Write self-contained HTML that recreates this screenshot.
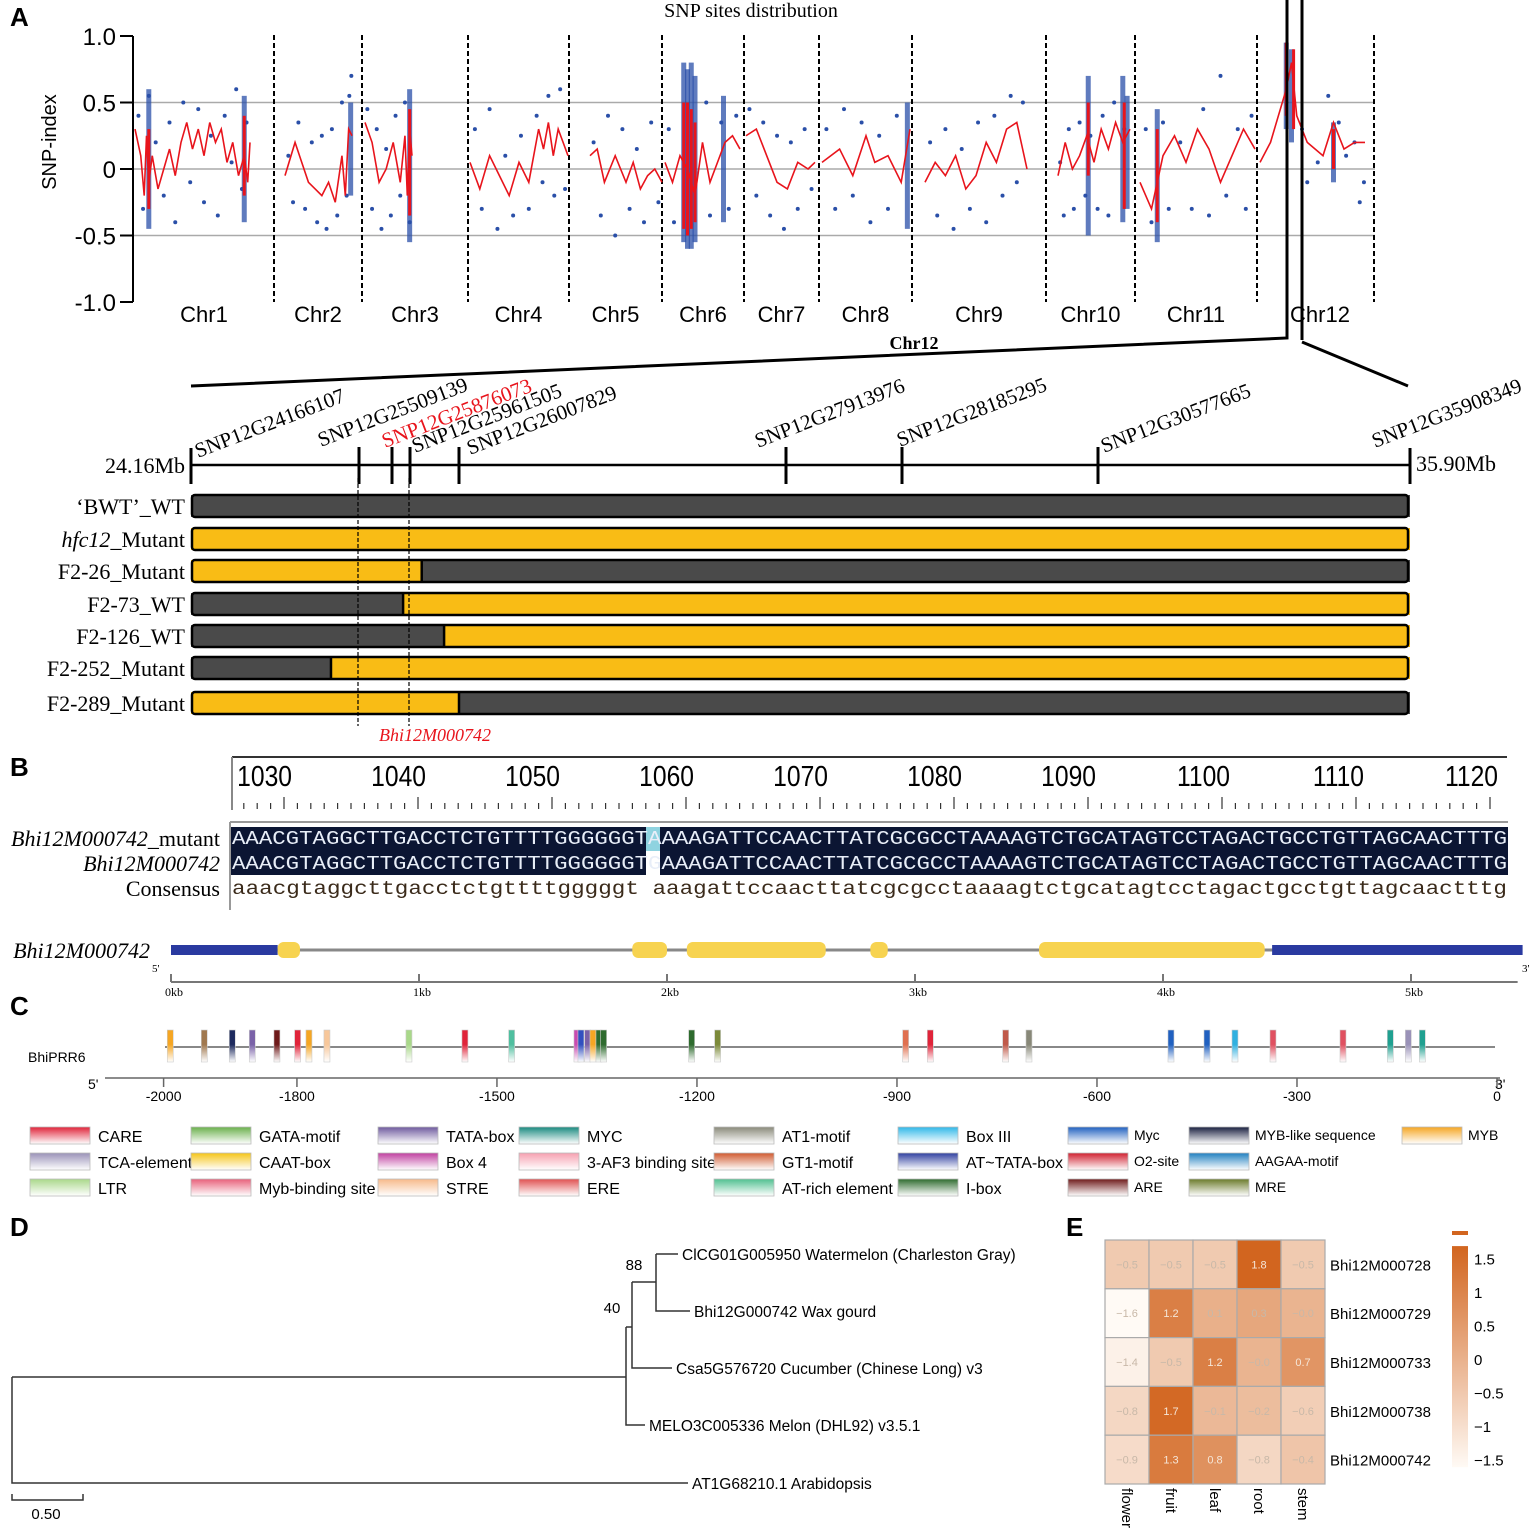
<!DOCTYPE html>
<html><head><meta charset="utf-8"><style>
html,body{margin:0;padding:0;background:#fff;}
svg{display:block;}
.sans{font-family:"Liberation Sans",Arial,sans-serif;}
.serif{font-family:"Liberation Serif","Times New Roman",serif;}
.mono{font-family:"Liberation Mono",monospace;}
</style></head><body>
<svg id="fig" width="1535" height="1531" viewBox="0 0 1535 1531" xmlns="http://www.w3.org/2000/svg">
<defs>
<linearGradient id="hmGrad" x1="0" y1="1" x2="0" y2="0"><stop offset="0" stop-color="#fffaf5"/><stop offset="1" stop-color="#d2651f"/></linearGradient>
</defs>
<g id="panelA"></g>
<g id="panelA2"></g>
<g id="panelB"></g>
<g id="panelC"></g>
<g id="panelD"></g>
<g id="panelE"></g>
</svg>
<script>
// ---------- Panel A data ----------
const chrNames = ["Chr1","Chr2","Chr3","Chr4","Chr5","Chr6","Chr7","Chr8","Chr9","Chr10","Chr11","Chr12"];
const yTicksA = [1.0,0.5,0,-0.5,-1.0];
const yTickLabelsA = ["1.0","0.5","0","-0.5","-1.0"];
const redLines = [
 [[0,0.3],[5,0.1],[8,-0.2],[10,0.25],[12,-0.1],[15,0.1],[20,-0.15],[25,0],[30,0.15],[35,-0.05],[40,0.2],[45,0.35],[50,0.15],[55,0.3],[60,0.1],[65,0.35],[70,0.2],[75,0.3],[80,0.05],[85,0.2],[90,-0.05],[95,0.1],[98,-0.1],[100,0.2]],
 [[0,-0.05],[15,0.2],[25,0.05],[35,-0.1],[45,-0.15],[55,-0.2],[65,-0.1],[75,-0.25],[85,0.1],[90,-0.2],[95,0.3],[100,0.25]],
 [[0,0.35],[15,0.2],[30,-0.1],[45,0],[60,0.2],[75,-0.1],[85,0.25],[90,-0.2],[95,0.3],[100,0.1]],
 [[0,0.05],[10,-0.15],[20,0.1],[30,-0.05],[40,-0.2],[50,0.05],[60,-0.1],[70,0.3],[75,0.15],[80,0.35],[85,0.1],[90,0.3],[95,0.2],[100,0.1]],
 [[0,0.1],[10,0.15],[20,-0.1],[35,0.1],[50,-0.1],[60,0.05],[70,-0.15],[80,-0.05],[90,0.0],[100,-0.1]],
 [[0,0.05],[10,-0.1],[20,0.1],[30,0],[40,-0.2],[50,0.2],[60,-0.1],[70,0.05],[80,0.2],[90,0.25],[100,0.15]],
 [[0,0.25],[15,0.3],[30,0.1],[45,-0.1],[60,-0.15],[75,0.05],[90,0],[100,0.05]],
 [[0,0.05],[20,0.15],[35,-0.05],[50,0.25],[60,0.05],[75,0.1],[90,-0.1],[100,0.3]],
 [[0,-0.1],[10,0.05],[20,-0.05],[30,0.1],[40,-0.15],[50,-0.05],[60,0.2],[70,0.05],[80,0.3],[90,0.35],[100,0]],
 [[0,-0.05],[10,0.2],[20,0],[30,0.1],[40,0.25],[50,0.05],[60,0.3],[70,0.15],[80,0.35],[90,0.2],[100,0.3]],
 [[0,-0.1],[10,-0.3],[20,0.1],[30,0.25],[40,0.05],[50,0.3],[60,0.15],[70,-0.1],[80,0.1],[90,0.3],[100,0.15]],
 [[0,0.05],[10,0.2],[25,0.6],[30,0.8],[35,0.4],[45,0.2],[60,0.1],[70,0.35],[80,0.15],[90,0.2],[100,0.2]]
];
const blueDots = [
 [[3,0.4],[7,-0.3],[12,0.55],[18,0.2],[25,-0.2],[30,0.35],[35,-0.4],[42,0.5],[48,-0.1],[55,0.45],[60,-0.25],[66,0.25],[72,-0.35],[78,0.4],[84,0.05],[88,0.6],[93,-0.15],[97,0.35]],
 [[5,0.1],[12,-0.25],[20,0.35],[30,-0.3],[40,0.2],[48,-0.4],[55,0.25],[62,-0.45],[70,0.3],[78,-0.35],[85,0.5],[92,-0.2],[96,0.55],[99,0.7]],
 [[5,0.45],[15,-0.3],[25,0.3],[35,-0.45],[45,0.15],[55,-0.35],[65,0.4],[75,-0.2],[85,0.5],[95,-0.4]],
 [[5,0.3],[12,-0.3],[20,0.45],[28,-0.45],[36,0.1],[44,-0.35],[52,0.25],[60,-0.3],[68,0.4],[74,-0.1],[80,0.55],[86,-0.2],[92,0.6],[97,-0.15]],
 [[5,0.2],[15,-0.35],[25,0.4],[35,-0.5],[45,0.3],[55,-0.3],[65,0.15],[75,-0.4],[85,0.35],[95,-0.25]],
 [[5,0.3],[12,-0.4],[55,0.5],[60,-0.35],[75,0.35],[85,-0.3],[95,0.4]],
 [[5,0.45],[15,-0.2],[25,0.35],[35,-0.35],[45,0.25],[55,-0.45],[65,0.2],[75,-0.3],[85,0.3],[95,-0.15]],
 [[5,0.3],[15,-0.3],[25,0.45],[35,-0.2],[45,0.35],[55,-0.4],[65,0.25],[75,-0.3],[85,0.4]],
 [[5,0.2],[12,-0.35],[20,0.3],[28,-0.45],[36,0.15],[44,-0.3],[52,0.35],[60,-0.4],[68,0.4],[76,-0.2],[84,0.55],[90,-0.1],[96,0.5]],
 [[3,0.05],[8,-0.35],[15,0.3],[22,-0.3],[30,0.35],[38,-0.2],[45,0.25],[55,-0.3],[62,0.4],[70,-0.35],[78,0.5],[92,0.3]],
 [[5,0.3],[10,-0.4],[20,0.35],[25,-0.3],[35,0.2],[45,-0.3],[55,0.45],[60,-0.35],[70,0.7],[75,-0.2],[85,0.3],[92,-0.3],[97,0.4]],
 [[40,0.3],[45,-0.1],[55,0.05],[65,0.55],[75,0.35],[82,0.1],[90,0.2],[95,-0.25],[99,-0.1]]
];
// spikes: [chrIndex, pos, lo, hi] blue dense columns
const blueSpikes = [[0,12,-0.45,0.6],[0,95,-0.4,0.55],[1,98,-0.2,0.5],[2,95,-0.55,0.6],[5,25,-0.55,0.8],[5,30,-0.6,0.75],[5,35,-0.6,0.8],[5,40,-0.55,0.7],[5,78,-0.4,0.55],[7,97,-0.45,0.5],[9,42,-0.5,0.7],[9,90,-0.4,0.7],[9,96,-0.3,0.55],[10,15,-0.55,0.45],[11,25,0.3,0.95],[11,30,0.2,0.9],[11,70,-0.1,0.35]];
const redSpikes = [[0,12,-0.3,0.3],[0,95,-0.2,0.4],[2,95,-0.35,0.45],[5,25,-0.45,0.5],[5,30,-0.5,0.5],[5,35,-0.45,0.45],[5,40,-0.4,0.35],[9,42,-0.05,0.5],[9,92,-0.3,0.5],[10,15,-0.4,0.3],[11,25,0.4,0.95],[11,32,0.3,0.9],[11,70,0,0.3]];

// ---------- Panel A2 data ----------
const snpMarkers = ["SNP12G24166107","SNP12G25509139","SNP12G25876073","SNP12G25961505","SNP12G26007829","SNP12G27913976","SNP12G28185295","SNP12G30577665","SNP12G35908349"];
const snpPosMb = [24.166,25.509,25.876,25.962,26.008,27.914,28.185,30.578,35.908];
const lineNames = ["‘BWT’_WT","hfc12_Mutant","F2-26_Mutant","F2-73_WT","F2-126_WT","F2-252_Mutant","F2-289_Mutant"];
// genotype segments: [startMb, endMb, genotype] ; G = gray (WT), Y = yellow (mutant)
const genoSegs = [
 [[24.166,35.908,"G"]],
 [[24.166,35.908,"Y"]],
 [[24.166,25.973,"Y"],[25.973,35.908,"G"]],
 [[24.166,25.929,"G"],[25.929,35.908,"Y"]],
 [[24.166,25.994,"G"],[25.994,35.908,"Y"]],
 [[24.166,25.285,"G"],[25.285,35.908,"Y"]],
 [[24.166,26.008,"Y"],[26.008,35.908,"G"]]
];
const intervalMb = [25.509,25.962];

// ---------- Panel B data ----------
const rulerLabels = [1030,1040,1050,1060,1070,1080,1090,1100,1110,1120];
const seqMutant = "AAACGTAGGCTTGACCTCTGTTTTGGGGGGTAAAAGATTCCAACTTATCGCGCCTAAAAGTCTGCATAGTCCTAGACTGCCTGTTAGCAACTTTG";
const seqWT     = "AAACGTAGGCTTGACCTCTGTTTTGGGGGGTGAAAGATTCCAACTTATCGCGCCTAAAAGTCTGCATAGTCCTAGACTGCCTGTTAGCAACTTTG";
const seqCons   = "aaacgtaggcttgacctctgttttgggggt aaagattccaacttatcgcgcctaaaagtctgcatagtcctagactgcctgttagcaactttg";
const geneUTR = [[0,0.43],[4.44,5.45]];
const geneExons = [[0.43,0.52],[1.86,2.0],[2.08,2.64],[2.82,2.89],[3.5,4.41]];
const kbTicks = [0,1,2,3,4,5];

// ---------- Panel C data ----------
const promTicks = [-2000,-1800,-1500,-1200,-900,-600,-300,0];
const elemPos = [-1990,-1939,-1897,-1867,-1830,-1799,-1782,-1755,-1632,-1548,-1478,-1380,-1374,-1364,-1356,-1347,-1340,-1208,-1169,-887,-850,-737,-702,-489,-435,-393,-336,-231,-160,-133,-112];
const elemColor = ["#f5a623","#a0784e","#1d2a5e","#7a62a8","#6e1a1a","#e0243a","#f5a623","#f7c79a","#a9d88a","#e0243a","#4fbf9f","#c94ab0","#3050c0","#7a62a8","#f5a623","#2e6b2e","#2e6b2e","#2e6b2e","#7c8a3a","#e07050","#e0243a","#c05a4a","#888878","#2060c0","#2060c0","#30b0e0","#e05060","#e05060","#20a090","#9a92b8","#20a090"];
const legendNames = ["CARE","TCA-element","LTR","GATA-motif","CAAT-box","Myb-binding site","TATA-box","Box 4","STRE","MYC","3-AF3 binding site","ERE","AT1-motif","GT1-motif","AT-rich element","Box III","AT~TATA-box","I-box","Myc","O2-site","ARE","MYB-like sequence","AAGAA-motif","MRE","MYB"];
const legendColors = ["#e0243a","#9a92b8","#a9d88a","#6ab04c","#f5c518","#e8607a","#6e5a9e","#c040a0","#f7b98a","#1a8a80","#f6a0b0","#e05050","#8a8a7a","#d05a30","#50c090","#30b8e8","#3040a0","#2e6b2e","#2060c0","#d02030","#6e1a1a","#1a2040","#2080c0","#6a7a2a","#f5a623"];

// ---------- Panel D data ----------
const treeLeaves = ["ClCG01G005950 Watermelon (Charleston Gray)","Bhi12G000742 Wax gourd","Csa5G576720 Cucumber (Chinese Long) v3","MELO3C005336 Melon (DHL92) v3.5.1","AT1G68210.1 Arabidopsis"];
const bootstrap = ["88","40"];

// ---------- Panel E data ----------
const hmGenes = ["Bhi12M000728","Bhi12M000729","Bhi12M000733","Bhi12M000738","Bhi12M000742"];
const hmTissues = ["flower","fruit","leaf","root","stem"];
const hmValues = [
 [-0.5,-0.5,-0.5,1.8,-0.5],
 [-1.6,1.2,0.1,0.3,-0.0],
 [-1.4,-0.5,1.2,-0.0,0.7],
 [-0.8,1.7,-0.1,-0.2,-0.6],
 [-0.9,1.3,0.8,-0.8,-0.4]
];
const hmLabels = [
 ["−0.5","−0.5","−0.5","1.8","−0.5"],
 ["−1.6","1.2","0.1","0.3","−0.0"],
 ["−1.4","−0.5","1.2","−0.0","0.7"],
 ["−0.8","1.7","−0.1","−0.2","−0.6"],
 ["−0.9","1.3","0.8","−0.8","−0.4"]
];
const cbTicks = [1.5,1,0.5,0,-0.5,-1,-1.5];
const cbTickLabels = ["1.5","1","0.5","0","−0.5","−1","−1.5"];

// ---------- helpers ----------
const NS = "http://www.w3.org/2000/svg";
function mk(parent, tag, attrs, text){
  const e = document.createElementNS(NS, tag);
  for (const k in attrs) e.setAttribute(k, attrs[k]);
  if (text !== undefined) e.textContent = text;
  parent.appendChild(e);
  return e;
}
function panelLabel(g, x, y, t){
  const e = mk(g,"text",{x:x,y:y,"font-size":26,"font-weight":"bold",class:"sans"},t);
  
  
}

// ---------- Panel A ----------
(function(){
  const g = document.getElementById("panelA");
  panelLabel(g, 10, 26, "A");
  const yA = v => 169 - v*133;
  const chrX = [[135,250],[285,352],[365,412],[470,568],[590,662],[665,740],[746,815],[822,910],[925,1027],[1058,1130],[1140,1255],[1260,1365]];
  const seps = [274,362,468,569,662,744,819,912,1046,1135,1257,1374];
  const xA = (c,p) => chrX[c][0] + (chrX[c][1]-chrX[c][0])*p/100;
  let t = mk(g,"text",{x:751,y:17,"text-anchor":"middle","font-size":20,class:"serif"},"SNP sites distribution");
  
  
  [0.5,0,-0.5].forEach(v=>{
    const l = mk(g,"line",{x1:133,x2:1375,y1:yA(v),y2:yA(v),stroke:"#aaa","stroke-width":1.5});
    
    
  });
  const ax = mk(g,"line",{x1:133,x2:133,y1:yA(1),y2:yA(-1),stroke:"#000","stroke-width":2});
  
  
  yTicksA.forEach((v,i)=>{
    mk(g,"line",{x1:120,x2:133,y1:yA(v),y2:yA(v),stroke:"#000","stroke-width":2});
    const tl = mk(g,"text",{x:116,y:yA(v)+9,"text-anchor":"end","font-size":24,class:"sans"},yTickLabelsA[i]);
    
    
  });
  const yt = mk(g,"text",{x:0,y:0,"font-size":20,class:"sans",transform:"translate(56,142) rotate(-90)","text-anchor":"middle"},"SNP-index");
  
  
  seps.forEach(x=>{
    const l = mk(g,"line",{x1:x,x2:x,y1:35,y2:302,stroke:"#000","stroke-width":2,"stroke-dasharray":"5,3"});
    
    
  });
  chrNames.forEach((n,i)=>{
    const cx = i===0?204:(i===11?1320:(seps[i-1]+seps[i])/2);
    const tl = mk(g,"text",{x:cx,y:322,"text-anchor":"middle","font-size":22,class:"sans"},n);
    
    
  });
  blueSpikes.forEach(s=>{
    const r = mk(g,"rect",{x:xA(s[0],s[1])-2.5,y:yA(s[3]),width:5,height:yA(s[2])-yA(s[3]),fill:"#2a4fa8",opacity:0.75});
    
    
  });
  blueDots.forEach((arr,c)=>arr.forEach(d=>{
    const p = mk(g,"circle",{cx:xA(c,d[0]),cy:yA(d[1]),r:2,fill:"#2a4fa8"});
    
    
  }));
  redLines.forEach((arr,c)=>{
    const pl = mk(g,"polyline",{points:arr.map(d=>xA(c,d[0])+","+yA(d[1])).join(" "),fill:"none",stroke:"#e8141c","stroke-width":1.6});
    
    
  });
  redSpikes.forEach(s=>{
    const r = mk(g,"rect",{x:xA(s[0],s[1])-1.5,y:yA(s[3]),width:3,height:yA(s[2])-yA(s[3]),fill:"#e8141c"});
    
    
  });
  const zb = mk(g,"path",{d:"M1287,0 L1287,338 L191,386 M1302,0 L1302,340 M1302,342 L1408,386",fill:"none",stroke:"#000","stroke-width":3});
  
  
  const ct = mk(g,"text",{x:914,y:349,"text-anchor":"middle","font-size":18,"font-weight":"bold",class:"serif"},"Chr12");
  
  
})();

// ---------- Panel A2 ----------
(function(){
  const g = document.getElementById("panelA2");
  // piecewise axis: marker Mb positions anchored to drawn (non-proportional) tick layout
  const anchorPx = [191,359,392,410,459,786,902,1098,1410];
  const xm = m => {
    for(let i=0;i<snpPosMb.length-1;i++){
      if(m<=snpPosMb[i+1]){ const f=(m-snpPosMb[i])/(snpPosMb[i+1]-snpPosMb[i]); return anchorPx[i]+f*(anchorPx[i+1]-anchorPx[i]); }
    }
    return anchorPx[anchorPx.length-1];
  };
  const ax = mk(g,"line",{x1:191,x2:1410,y1:465,y2:465,stroke:"#000","stroke-width":2.5});
  
  
  let t = mk(g,"text",{x:185,y:473,"text-anchor":"end","font-size":22,class:"serif"},"24.16Mb");
  
  
  t = mk(g,"text",{x:1416,y:471,"font-size":22,class:"serif"},"35.90Mb");
  
  
  const labPos = [[198,458],[321,447],[385,448],[415,453],[470,455],[758,448],[900,447],[1104,453],[1375,448]];
  snpMarkers.forEach((n,i)=>{
    const x = xm(snpPosMb[i]);
    const l = mk(g,"line",{x1:x,x2:x,y1:i===0||i===8?448:447,y2:484,stroke:"#000","stroke-width":3});
    
    
    const tx = labPos[i][0], ty = labPos[i][1];
    const tl = mk(g,"text",{x:tx,y:ty,"font-size":21,class:"serif",fill:i===2?"#e8141c":"#000",transform:`rotate(-21 ${tx} ${ty})`},n);
    
    
  });
  const rowY = [506,539,571,604,636,668,703];
  lineNames.forEach((n,i)=>{
    const y = rowY[i];
    const lab = mk(g,"text",{x:185,y:y+8,"text-anchor":"end","font-size":22,class:"serif"});
    
    
    if(i===1){ mk(lab,"tspan",{"font-style":"italic"},"hfc12"); mk(lab,"tspan",{},"_Mutant"); }
    else lab.textContent = n;
    genoSegs[i].forEach(s=>{
      const r = mk(g,"rect",{x:xm(s[0]),y:y-11,width:xm(s[1])-xm(s[0]),height:22,fill:s[2]==="G"?"#4a4a4a":"#f9bc15"});
      
      
    });
    const b = mk(g,"rect",{x:192,y:y-11,width:1216,height:22,rx:3,fill:"none",stroke:"#000","stroke-width":2.5});
    
    
    genoSegs[i].slice(1).forEach(s=>{
      mk(g,"line",{x1:xm(s[0]),x2:xm(s[0]),y1:y-11,y2:y+11,stroke:"#000","stroke-width":2.5});
    });
  });
  intervalMb.forEach(m=>{
    const l = mk(g,"line",{x1:xm(m)-1,x2:xm(m)-1,y1:478,y2:726,stroke:"#000","stroke-width":1.2,"stroke-dasharray":"4,2"});
    
    
  });
  t = mk(g,"text",{x:435,y:741,"text-anchor":"middle","font-size":18,"font-style":"italic",fill:"#e8141c",class:"serif"},"Bhi12M000742");
  
  
})();

// ---------- Panel B ----------
(function(){
  const g = document.getElementById("panelB");
  panelLabel(g, 10, 776, "B");
  const bx = b => 284 + (b-1030)*13.4;
  mk(g,"line",{x1:232,x2:1507,y1:757,y2:757,stroke:"#333","stroke-width":2});
  mk(g,"line",{x1:232,x2:232,y1:757,y2:810,stroke:"#888","stroke-width":2});
  rulerLabels.forEach(b=>{
    const t = mk(g,"text",{x:(bx(b)+8)/0.85,y:786,"text-anchor":"end","font-size":29,class:"sans",transform:`scale(0.85,1)`},b);
    
    
  });
  for(let b=1027;b<=1120;b++){
    const major = b%10===0;
    mk(g,"line",{x1:bx(b),x2:bx(b),y1:major?797:803,y2:809,stroke:"#333","stroke-width":1.2});
  }
  mk(g,"line",{x1:230,x2:1508,y1:822,y2:822,stroke:"#999","stroke-width":2});
  mk(g,"line",{x1:230,x2:230,y1:822,y2:910,stroke:"#999","stroke-width":2});
  const box = mk(g,"rect",{x:231,y:827,width:1277,height:48,fill:"#0b1533"});
  
  
  const hi = mk(g,"rect",{x:646,y:827,width:14,height:24,fill:"#8fd3e0"});
  
  
  mk(g,"rect",{x:646,y:851,width:14,height:24,fill:"#fff"});
  const rows = [["Bhi12M000742","_mutant",seqMutant,848,"#e8eef8"],["Bhi12M000742","",seqWT,873,"#e8eef8"],["","Consensus",seqCons,898,"#3a2a1a"]];
  rows.forEach((r,i)=>{
    const lab = mk(g,"text",{x:220,y:r[3]-2,"text-anchor":"end","font-size":22,class:"serif"});
    
    
    if(r[0]) mk(lab,"tspan",{"font-style":"italic"},r[0]);
    if(r[1]) mk(lab,"tspan",{},r[1]);
    const s = mk(g,"text",{x:232,y:r[3]-4,"font-size":19,class:"mono",fill:r[4],textLength:1275,lengthAdjust:"spacingAndGlyphs"},r[2]);
    
    
  });
  const kx = k => 171 + k*248;
  let t = mk(g,"text",{x:150,y:958,"text-anchor":"end","font-size":22,"font-style":"italic",class:"serif"},"Bhi12M000742");
  
  
  mk(g,"line",{x1:kx(0),x2:kx(5.43),y1:950,y2:950,stroke:"#888","stroke-width":3});
  geneUTR.forEach(u=>{
    const r = mk(g,"rect",{x:kx(u[0]),y:945,width:kx(u[1])-kx(u[0]),height:10,fill:"#2a3aa0"});
    
    
  });
  geneExons.forEach(u=>{
    const r = mk(g,"rect",{x:kx(u[0]),y:942,width:kx(u[1])-kx(u[0]),height:16,rx:6,fill:"#f7d350"});
    
    
  });
  mk(g,"text",{x:152,y:972,"font-size":11,class:"serif"},"5'");
  mk(g,"text",{x:1522,y:972,"font-size":11,class:"serif"},"3'");
  mk(g,"line",{x1:kx(0),x2:kx(5.43),y1:982,y2:982,stroke:"#777","stroke-width":2});
  kbTicks.forEach(k=>{
    mk(g,"line",{x1:kx(k),x2:kx(k),y1:974,y2:982,stroke:"#777","stroke-width":2});
    const tl = mk(g,"text",{x:kx(k)+3,y:996,"text-anchor":"middle","font-size":12,class:"serif"},k+"kb");
    
    
  });
})();

// ---------- Panel C ----------
(function(){
  const g = document.getElementById("panelC");
  panelLabel(g, 10, 1015, "C");
  const px = b => 1497 + b*0.6667;
  let t = mk(g,"text",{x:28,y:1062,"font-size":14,class:"sans"},"BhiPRR6");
  
  
  mk(g,"line",{x1:165,x2:1495,y1:1047,y2:1047,stroke:"#888","stroke-width":2});
  elemPos.forEach((b,i)=>{
    const id = "eg"+i;
    const gr = mk(g.ownerSVGElement.querySelector("defs"),"linearGradient",{id:id,x1:0,y1:0,x2:0,y2:1});
    mk(gr,"stop",{offset:0,"stop-color":elemColor[i]});
    mk(gr,"stop",{offset:0.45,"stop-color":elemColor[i]});
    mk(gr,"stop",{offset:1,"stop-color":"#fff"});
    const r = mk(g,"rect",{x:px(b)-3,y:1030,width:6,height:32,fill:`url(#${id})`,stroke:"#ccc","stroke-width":0.6});
    
    
  });
  mk(g,"line",{x1:105,x2:1500,y1:1078,y2:1078,stroke:"#666","stroke-width":1.5});
  mk(g,"text",{x:88,y:1089,"font-size":14,class:"sans"},"5'");
  mk(g,"text",{x:1495,y:1089,"font-size":14,class:"sans"},"3'");
  promTicks.forEach(b=>{
    mk(g,"line",{x1:px(b),x2:px(b),y1:1078,y2:1087,stroke:"#666","stroke-width":1.5});
    const tl = mk(g,"text",{x:px(b),y:1101,"text-anchor":"middle","font-size":14,class:"sans"},b===0?"0":b);
    
    
  });
  const colX = [30,191,378,519,714,898,1068,1189,1402];
  const rowY = [1127,1153,1179];
  legendNames.forEach((n,i)=>{
    const c = Math.floor(i/3), r = i%3;
    const x = colX[c], y = rowY[r];
    const id = "lg"+i;
    const gr = mk(g.ownerSVGElement.querySelector("defs"),"linearGradient",{id:id,x1:0,y1:0,x2:0,y2:1});
    mk(gr,"stop",{offset:0,"stop-color":legendColors[i]});
    mk(gr,"stop",{offset:1,"stop-color":"#fff"});
    const sw = mk(g,"rect",{x:x,y:y,width:60,height:17,fill:`url(#${id})`,stroke:"#bbb","stroke-width":0.8});
    
    
    const small = c>=6;
    const tl = mk(g,"text",{x:x+(small?66:68),y:y+(small?13:15),"font-size":small?14:16,class:"sans"},n);
    
    
  });
})();

// ---------- Panel D ----------
(function(){
  const g = document.getElementById("panelD");
  panelLabel(g, 10, 1236, "D");
  const leafY = [1254,1311,1368,1425,1483];
  const leafX = [678,690,672,645,688];
  const path = "M12,1377 L12,1483 L688,1483 M12,1377 L626,1377 M626,1327 L626,1425 L645,1425 M626,1327 L632,1327 M632,1282 L632,1368 L672,1368 M632,1282 L656,1282 M656,1254 L656,1311 L690,1311 M656,1254 L678,1254";
  const p = mk(g,"path",{d:path,stroke:"#333","stroke-width":1.5,fill:"none"});
  
  
  treeLeaves.forEach((n,i)=>{
    const t = mk(g,"text",{x:leafX[i]+4,y:leafY[i]+6,"font-size":15.5,class:"sans"},n);
    
    
  });
  let t = mk(g,"text",{x:634,y:1270,"text-anchor":"middle","font-size":15,class:"sans"},bootstrap[0]);
  
  
  t = mk(g,"text",{x:612,y:1313,"text-anchor":"middle","font-size":15,class:"sans"},bootstrap[1]);
  
  
  mk(g,"path",{d:"M12,1494 L12,1500 L83,1500 L83,1494",stroke:"#333","stroke-width":1.5,fill:"none"});
  t = mk(g,"text",{x:46,y:1519,"text-anchor":"middle","font-size":15,class:"sans"},"0.50");
  
  
})();

// ---------- Panel E ----------
(function(){
  const g = document.getElementById("panelE");
  panelLabel(g, 1066, 1236, "E");
  const x0=1105, y0=1240, cw=44, ch=48.8;
  const vmin=-1.6, vmax=1.8;
  const lo=[255,250,245], hi=[210,101,31];
  const col = v => { const t=Math.max(0,Math.min(1,(v-vmin)/(vmax-vmin))); return "rgb("+lo.map((a,k)=>Math.round(a+(hi[k]-a)*t)).join(",")+")"; };
  hmValues.forEach((row,r)=>row.forEach((v,c)=>{
    const cell = mk(g,"rect",{x:x0+c*cw,y:y0+r*ch,width:cw,height:ch,fill:col(v),stroke:"#aaa","stroke-width":1.2});
    
    
    const t = mk(g,"text",{x:x0+c*cw+cw/2,y:y0+r*ch+ch/2+4,"text-anchor":"middle","font-size":11,class:"sans",fill:v>0.6?"#f5e6d8":"#c8b8a8"},hmLabels[r][c]);
    
    
  }));
  hmGenes.forEach((n,r)=>{
    const t = mk(g,"text",{x:1330,y:y0+r*ch+ch/2+6,"font-size":15,class:"sans"},n);
    
    
  });
  hmTissues.forEach((n,c)=>{
    const x = x0+c*cw+cw/2-5, y=1488;
    const t = mk(g,"text",{x:x,y:y,"font-size":15,class:"sans",transform:`rotate(90 ${x} ${y})`},n);
    
    
  });
  const cbY = v => 1360 - v*67;
  const cb = mk(g,"rect",{x:1452,y:cbY(1.7),width:16,height:cbY(-1.6)-cbY(1.7),fill:"url(#hmGrad)"});
  
  
  mk(g,"rect",{x:1452,y:1231,width:16,height:4,fill:"#d2651f"});
  cbTicks.forEach((v,i)=>{
    const t = mk(g,"text",{x:1474,y:cbY(v)+5,"font-size":15,class:"sans"},cbTickLabels[i]);
    
    
  });
})();
</script>
</body></html>
